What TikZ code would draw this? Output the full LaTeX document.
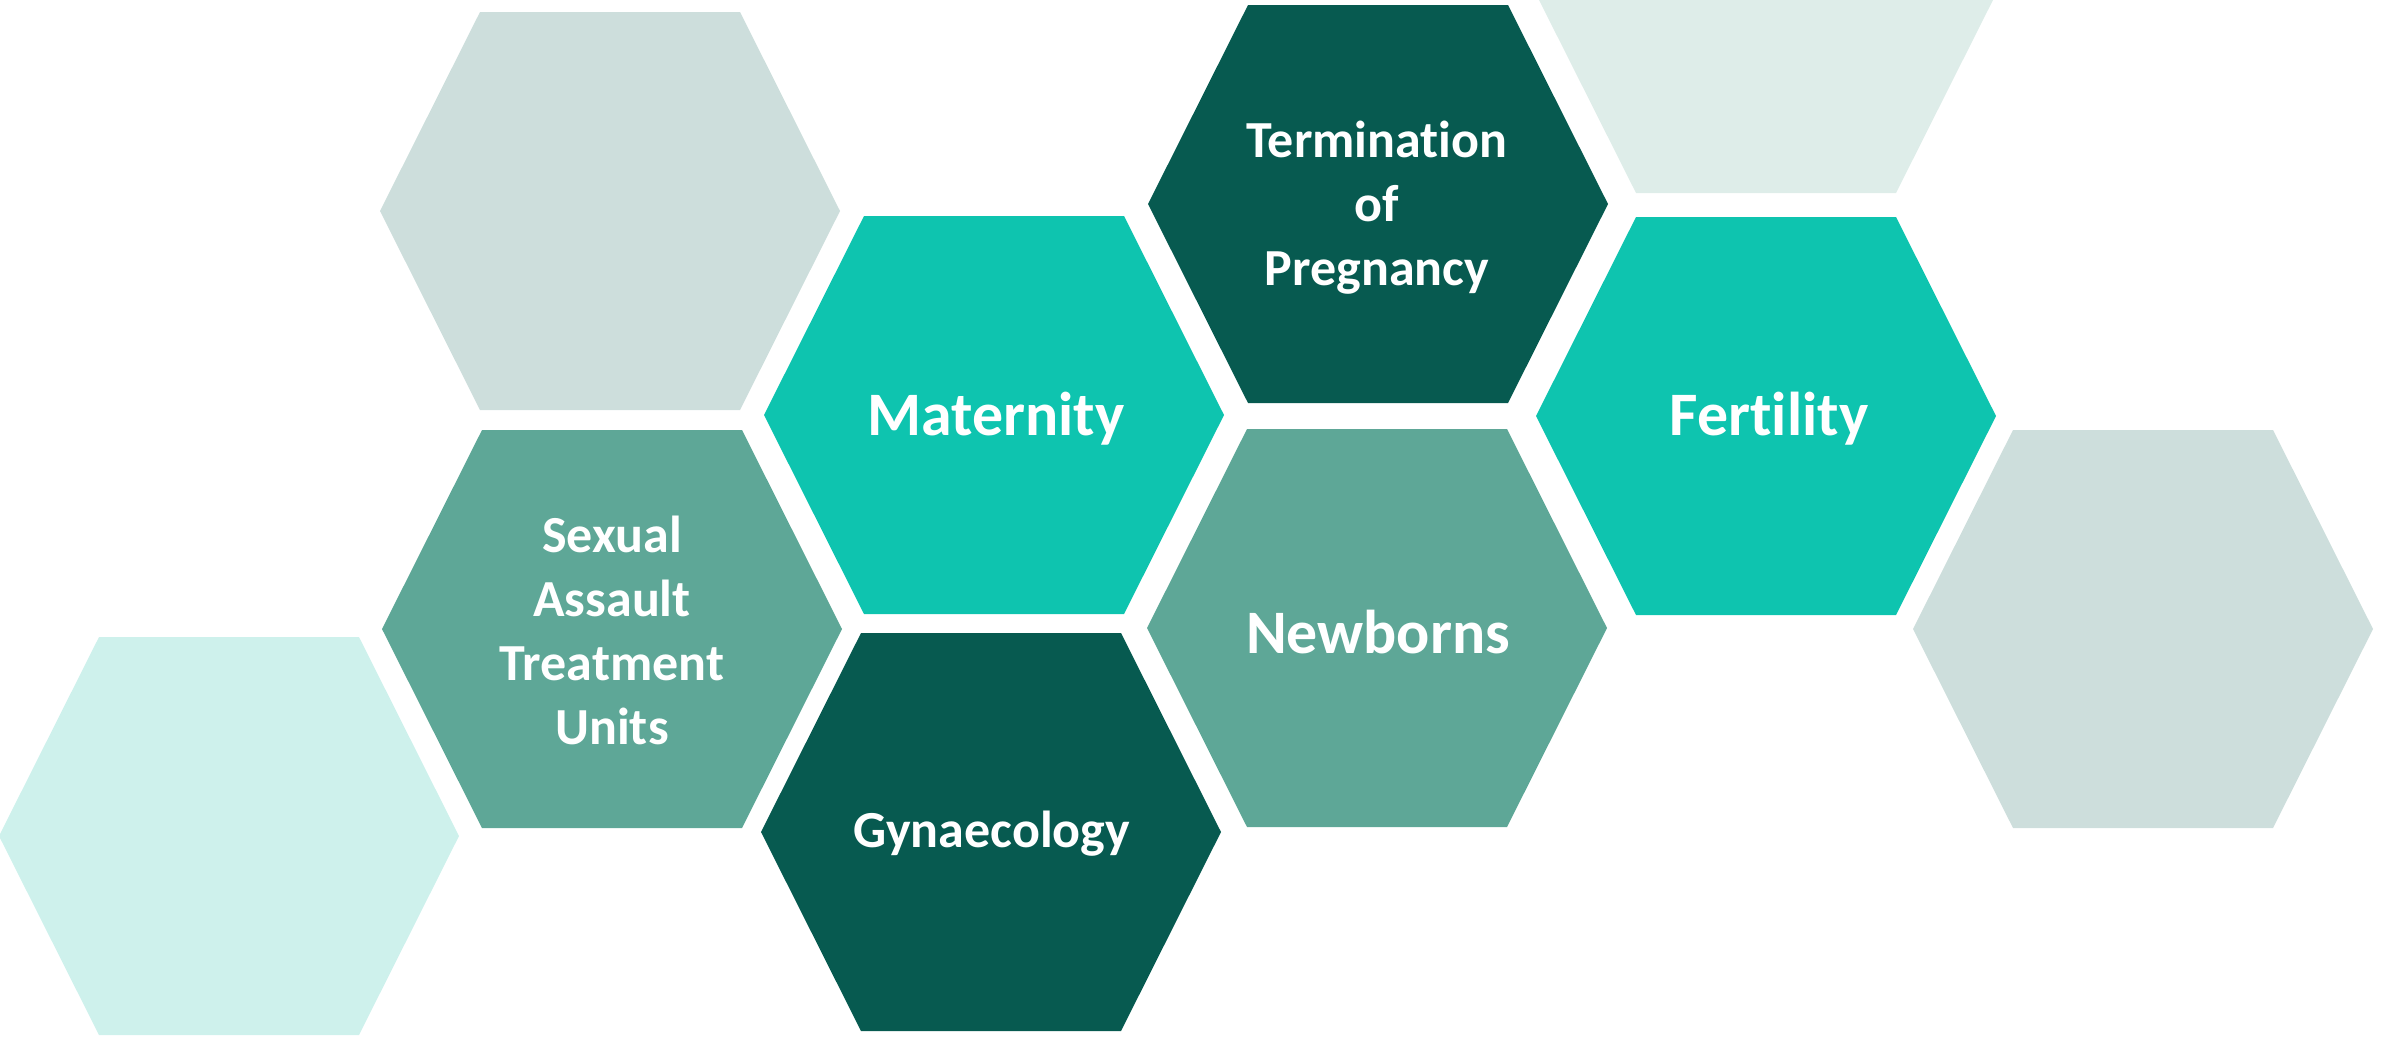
\documentclass[tikz,border=0pt]{standalone}
\usepackage{fontspec}
\setmainfont{Carlito}[Ligatures={NoCommon}]
\usepackage{tikz}

\definecolor{hexgray}{HTML}{CDDEDC}
\definecolor{hexpale}{HTML}{DEEDE9}
\definecolor{hexmint}{HTML}{CEF1EC}
\definecolor{hexteal}{HTML}{0EC4AF}
\definecolor{hexdark}{HTML}{075A50}
\definecolor{hexmid}{HTML}{5EA797}

\tikzset{
  service/.style = {text = white, align = center, font = \bfseries\fontsize{17.6}{21}\selectfont},
  servicesmall/.style = {service, font = \bfseries\fontsize{14.8}{18.2}\selectfont}
}

\begin{document}
\begin{tikzpicture}

\useasboundingbox (0,0) rectangle (23.82,-10.38);

% honeycomb cells: centre x / centre y / colour
\foreach \x/\y/\c in {6.10/-2.11/hexgray, 17.66/0.06/hexpale, 13.78/-2.04/hexdark,
                      9.94/-4.15/hexteal, 17.66/-4.16/hexteal,
                      6.12/-6.29/hexmid, 13.77/-6.28/hexmid, 21.43/-6.29/hexgray,
                      2.29/-8.36/hexmint, 9.91/-8.32/hexdark} {
	\fill[\c] (\x,\y) +(-2.3,0) -- +(-1.3,1.99) -- +(1.3,1.99) -- +(2.3,0) -- +(1.3,-1.99) -- +(-1.3,-1.99) -- cycle;
}

\node[servicesmall] (termination) at (13.77,-2.08) {Termination\\of\\Pregnancy};
\node[service] (maternity) at (9.96,-4.19) {Maternity};
\node[service] (fertility) at (17.69,-4.19) {Fertility};
\node[servicesmall] (sexual) at (6.12,-6.30) {Sexual\\Assault\\Treatment\\Units};
\node[service] (newborns) at (13.78,-6.32) {Newborns};
\node[servicesmall] (gynaecology) at (9.92,-8.34) {Gynaecology};
\end{tikzpicture}
\end{document}
